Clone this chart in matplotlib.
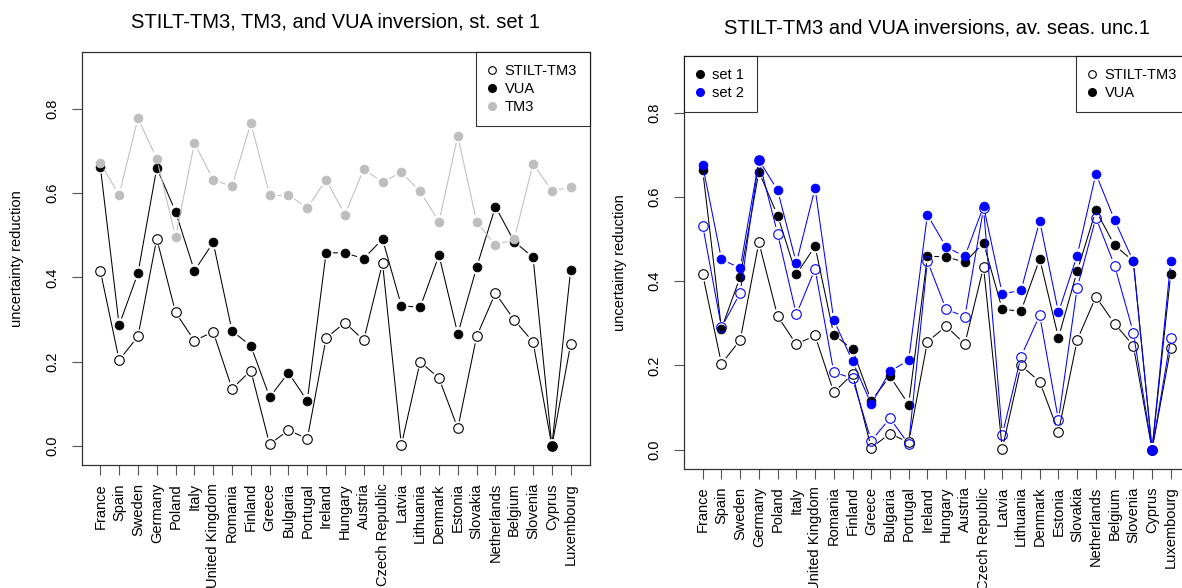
import numpy as np
import matplotlib
matplotlib.use("Agg")
import matplotlib.pyplot as plt
from matplotlib.lines import Line2D
from matplotlib.collections import LineCollection

plt.rcParams['font.family'] = ['Liberation Sans', 'DejaVu Sans']

countries = ["France", "Spain", "Sweden", "Germany", "Poland", "Italy", "United Kingdom",
             "Romania", "Finland", "Greece", "Bulgaria", "Portugal", "Ireland", "Hungary",
             "Austria", "Czech Republic", "Latvia", "Lithuania", "Denmark", "Estonia",
             "Slovakia", "Netherlands", "Belgium", "Slovenia", "Cyprus", "Luxembourg"]

# Left panel (station set 1) == right panel set 1
stilt_set1 = [0.416, 0.204, 0.260, 0.492, 0.317, 0.250, 0.271, 0.136, 0.179, 0.004,
              0.038, 0.017, 0.256, 0.293, 0.251, 0.434, 0.002, 0.200, 0.161, 0.042,
              0.260, 0.363, 0.299, 0.247, 0.000, 0.242]
vua_set1 = [0.663, 0.287, 0.410, 0.660, 0.556, 0.416, 0.483, 0.273, 0.238, 0.116,
            0.174, 0.107, 0.459, 0.458, 0.445, 0.491, 0.333, 0.329, 0.453, 0.266,
            0.424, 0.568, 0.485, 0.448, 0.000, 0.418]
tm3_set1 = [0.671, 0.596, 0.778, 0.682, 0.496, 0.719, 0.632, 0.616, 0.766, 0.596,
            0.596, 0.565, 0.632, 0.549, 0.657, 0.626, 0.650, 0.604, 0.532, 0.736,
            0.532, 0.477, 0.491, 0.670, 0.606, 0.614]

# Right panel set 2
stilt_set2 = [0.532, 0.290, 0.372, 0.687, 0.513, 0.321, 0.429, 0.184, 0.169, 0.021,
              0.074, 0.013, 0.448, 0.333, 0.316, 0.573, 0.035, 0.221, 0.319, 0.070,
              0.384, 0.551, 0.437, 0.278, 0.000, 0.265]
vua_set2 = [0.675, 0.452, 0.431, 0.688, 0.616, 0.443, 0.621, 0.308, 0.210, 0.108,
            0.186, 0.212, 0.558, 0.481, 0.459, 0.578, 0.370, 0.378, 0.543, 0.326,
            0.461, 0.655, 0.545, 0.447, 0.000, 0.448]

yticks = [0.0, 0.2, 0.4, 0.6, 0.8]
ytick_labels = ["0.0", "0.2", "0.4", "0.6", "0.8"]

GRAY = "#bebebe"
BLUE = "#0000ff"
FS = 10.5
MS = 6.3

W, H = 1182, 588
fig = plt.figure(figsize=(W / 100, H / 100), dpi=100)

axL = fig.add_axes([81.5 / W, 1 - 465 / H, 508 / W, (465 - 52) / H])
axR = fig.add_axes([684 / W, 1 - 468.5 / H, 505.5 / W, (468.5 - 56) / H])

x = np.arange(len(countries))
for ax in (axL, axR):
    ax.set_xlim(-1, 26)
    ax.set_ylim(-0.045, 0.935)
    ax.set_xticks(x)
    ax.set_xticklabels(countries, rotation=90, fontsize=FS)
    ax.set_yticks(yticks)
    ax.set_yticklabels(ytick_labels, rotation=90, va='center', fontsize=FS)
    ax.tick_params(axis='both', length=7, width=0.8, color='#555555')
    ax.tick_params(axis='x', pad=6)
    ax.tick_params(axis='y', pad=9)
    for s in ax.spines.values():
        s.set_linewidth(0.9)
        s.set_color('#333333')
    ax.set_ylabel("uncertainty reduction", fontsize=FS)
    wpx = ax.get_position().width * W
    ax.yaxis.set_label_coords(-57 / wpx, 0.5)


def gapped(ax, xs, ys, color, lw=0.75, gap=7.0):
    pts = ax.transData.transform(np.column_stack([xs, ys]))
    inv = ax.transData.inverted()
    segs = []
    for p0, p1 in zip(pts[:-1], pts[1:]):
        d = p1 - p0
        L = np.hypot(d[0], d[1])
        if L > 2 * gap:
            u = d / L
            segs.append(inv.transform(np.vstack([p0 + u * gap, p1 - u * gap])))
    ax.add_collection(LineCollection(segs, colors=color, linewidths=lw))


def series(ax, ys, color, lcolor, filled):
    gapped(ax, x, ys, lcolor)
    if filled:
        ax.plot(x, ys, 'o', ms=MS, mfc=color, mec=color, mew=0.6, ls='none')
    else:
        ax.plot(x, ys, 'o', ms=MS + 0.6, mfc='none', mec=color, mew=0.8, ls='none')


# Left panel
series(axL, stilt_set1, 'black', 'black', False)
series(axL, vua_set1, 'black', 'black', True)
series(axL, tm3_set1, GRAY, GRAY, True)
axL.set_title("STILT-TM3, TM3, and VUA inversion, st. set 1", fontsize=14.5, pad=18)

leg_kw = dict(fontsize=FS, frameon=True, fancybox=False, edgecolor='black',
              borderaxespad=0, borderpad=0.85, handlelength=0.5, handletextpad=0.6,
              labelspacing=0.25)

hL = [Line2D([], [], ls='none', marker='o', ms=5.5, mfc='none', mec='black', mew=0.8),
      Line2D([], [], ls='none', marker='o', ms=5.5, mfc='black', mec='black'),
      Line2D([], [], ls='none', marker='o', ms=5.5, mfc=GRAY, mec=GRAY)]
legL = axL.legend(hL, ["STILT-TM3", "VUA", "TM3"], loc='upper right', **leg_kw)
legL.get_frame().set_linewidth(0.8)

# Right panel
series(axR, stilt_set1, 'black', 'black', False)
series(axR, vua_set1, 'black', 'black', True)
series(axR, stilt_set2, BLUE, BLUE, False)
series(axR, vua_set2, BLUE, BLUE, True)
axR.set_title("STILT-TM3 and VUA inversions, av. seas. unc.1", fontsize=14.5, pad=16)

hS = [Line2D([], [], ls='none', marker='o', ms=5.5, mfc='black', mec='black'),
      Line2D([], [], ls='none', marker='o', ms=5.5, mfc=BLUE, mec=BLUE)]
legS = axR.legend(hS, ["set 1", "set 2"], loc='upper left', **leg_kw)
legS.get_frame().set_linewidth(0.8)
axR.add_artist(legS)

hT = [Line2D([], [], ls='none', marker='o', ms=5.5, mfc='none', mec='black', mew=0.8),
      Line2D([], [], ls='none', marker='o', ms=5.5, mfc='black', mec='black')]
legT = axR.legend(hT, ["STILT-TM3", "VUA"], loc='upper right', **leg_kw)
legT.get_frame().set_linewidth(0.8)

fig.savefig("out.png", dpi=100)
